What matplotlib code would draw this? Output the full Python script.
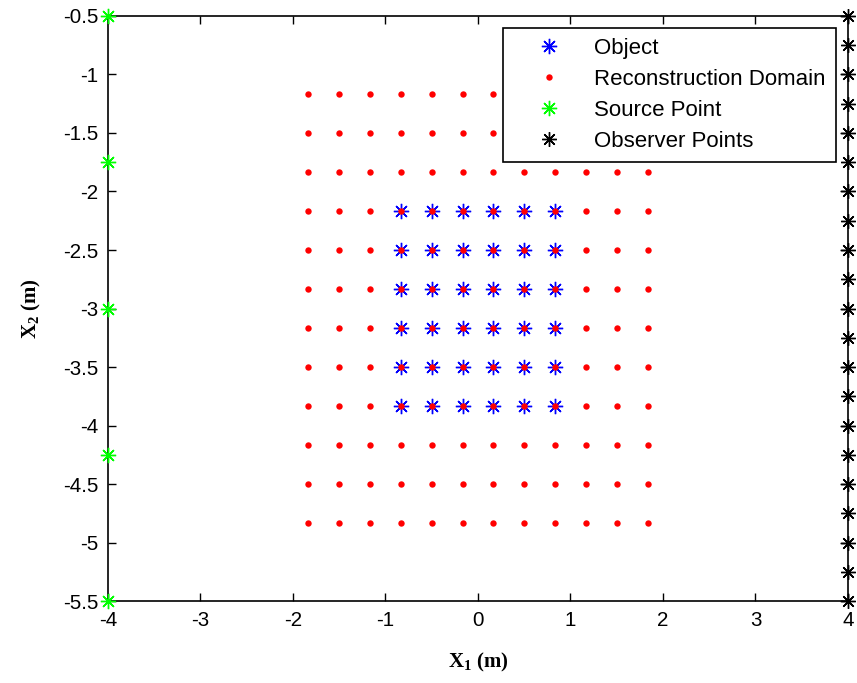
import numpy as np
import matplotlib
matplotlib.use("Agg")
import matplotlib.pyplot as plt

# Grid coordinates (m)
domain_x = [-1.833, -1.5, -1.167, -0.833, -0.5, -0.167, 0.167, 0.5, 0.833, 1.167, 1.5, 1.833]
domain_y = [-1.167, -1.5, -1.833, -2.167, -2.5, -2.833, -3.167, -3.5, -3.833, -4.167, -4.5, -4.833]
object_x = [-0.833, -0.5, -0.167, 0.167, 0.5, 0.833]
object_y = [-2.167, -2.5, -2.833, -3.167, -3.5, -3.833]
source_x = [-4, -4, -4, -4, -4]
source_y = [-0.5, -1.75, -3.0, -4.25, -5.5]
observer_y = [-0.5, -0.75, -1.0, -1.25, -1.5, -1.75, -2.0, -2.25, -2.5, -2.75, -3.0,
              -3.25, -3.5, -3.75, -4.0, -4.25, -4.5, -4.75, -5.0, -5.25, -5.5]
observer_x = [4] * len(observer_y)
xticks = [-4, -3, -2, -1, 0, 1, 2, 3, 4]
yticks = [-5.5, -5, -4.5, -4, -3.5, -3, -2.5, -2, -1.5, -1, -0.5]

plt.rcParams['font.family'] = ['Liberation Sans', 'DejaVu Sans']
plt.rcParams['mathtext.default'] = 'regular'

fig = plt.figure(figsize=(8.57, 6.83), dpi=100)
ax = fig.add_axes([0.126, 0.12, 0.8635, 0.8566])

star = (8, 2, 0)

ox, oy = np.meshgrid(object_x, object_y)
dx, dy = np.meshgrid(domain_x, domain_y)

ax.plot(ox.ravel(), oy.ravel(), linestyle='none', marker=star, markersize=11,
        markeredgewidth=1.0, color='#0000ff', label='Object')
ax.plot(dx.ravel(), dy.ravel(), linestyle='none', marker='o', markersize=4.6,
        color='#ff0000', markeredgewidth=0, label='Reconstruction Domain')
ax.plot(source_x, source_y, linestyle='none', marker=star, markersize=11,
        markeredgewidth=1.0, color='#00ff00', label='Source Point', clip_on=False, zorder=5)
ax.plot(observer_x, observer_y, linestyle='none', marker=star, markersize=10.5,
        markeredgewidth=1.0, color='black', label='Observer Points', clip_on=False, zorder=5)

ax.set_xlim(-4, 4)
ax.set_ylim(-5.5, -0.5)
ax.set_xticks(xticks)
ax.set_xticklabels([f'{t:g}' for t in xticks])
ax.set_yticks(yticks)
ax.set_yticklabels([f'{t:g}' for t in yticks])
ax.tick_params(direction='in', length=6, width=1, labelsize=14.8,
               top=True, right=True, pad=7)
for s in ax.spines.values():
    s.set_linewidth(1.2)

serif = {'family': 'Liberation Serif', 'weight': 'bold', 'size': 15}
ax.set_xlabel('X$_1$ (m)', fontdict=serif, labelpad=15)
ax.set_ylabel('X$_2$ (m)', fontdict=serif, labelpad=14)

leg = ax.legend(loc='upper left', bbox_to_anchor=(0.534, 0.98), fontsize=16,
                frameon=True, fancybox=False, edgecolor='black', framealpha=1,
                handlelength=3.2, handletextpad=0.45, borderpad=0.45, labelspacing=0.45,
                borderaxespad=0, markerscale=1.0)
leg.get_frame().set_linewidth(1.2)

fig.savefig('out.png', dpi=100)
